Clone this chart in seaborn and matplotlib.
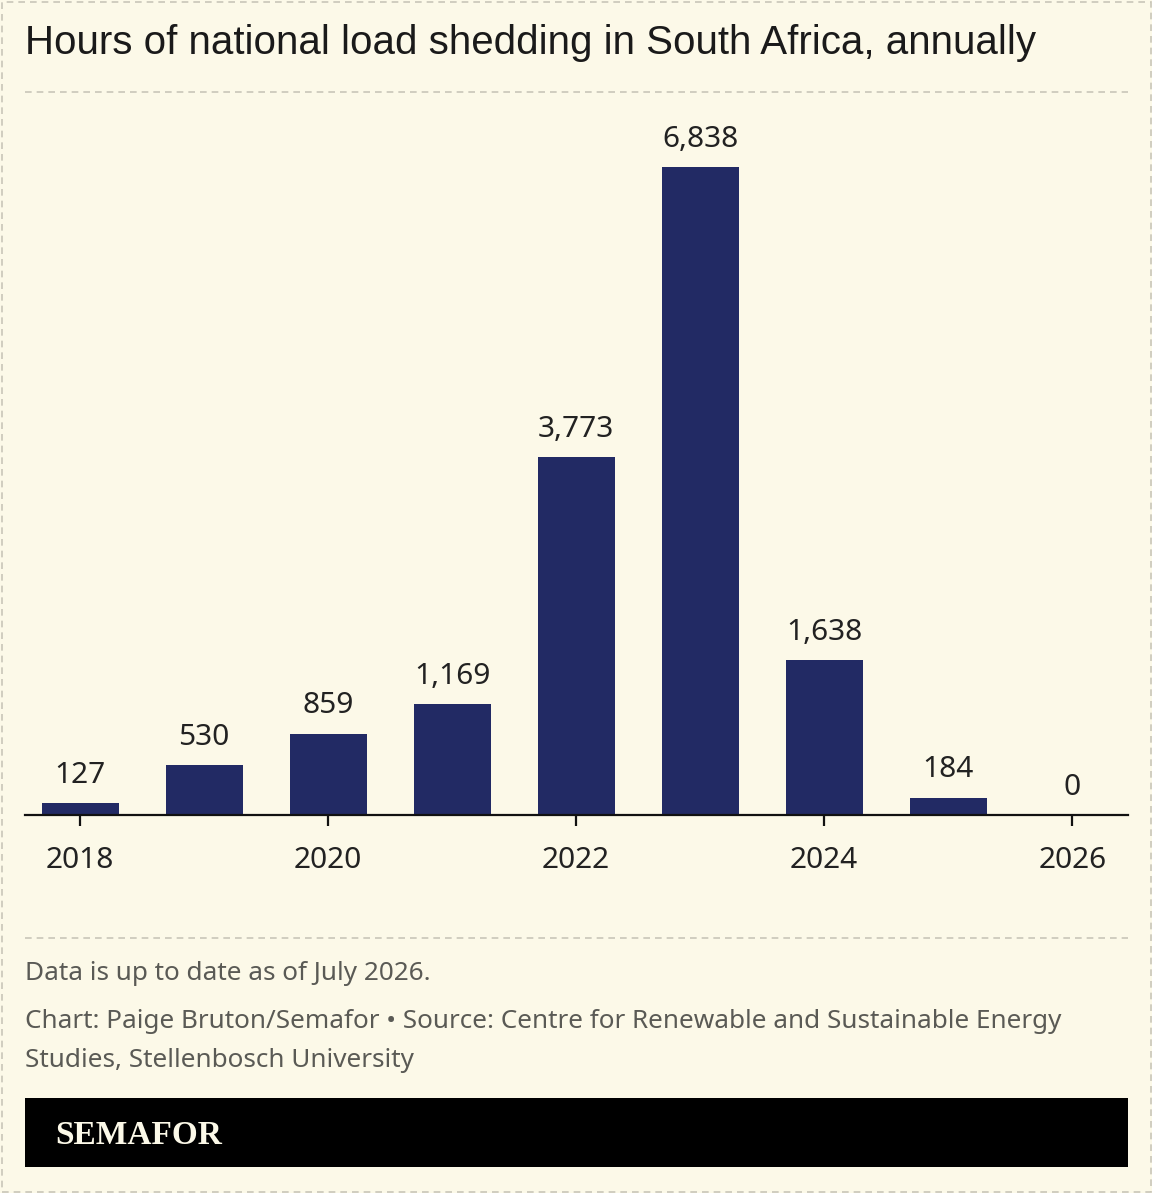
import matplotlib
matplotlib.use("Agg")
import pandas as pd
from matplotlib import pyplot as plt
from matplotlib.patches import Rectangle
from matplotlib.lines import Line2D
import seaborn as sns

years = ["2018", "2019", "2020", "2021", "2022", "2023", "2024", "2025", "2026"]
hours = [127, 530, 859, 1169, 3773, 6838, 1638, 184, 0]
tick_years = ["2018", "2020", "2022", "2024", "2026"]

title = "Hours of national load shedding in South Africa, annually"
note = "Data is up to date as of July 2026."
credit = ("Chart: Paige Bruton/Semafor \u2022 Source: Centre for Renewable and Sustainable Energy\n"
          "Studies, Stellenbosch University")

BG = "#FCF9E8"
BAR = "#222A64"

sns.set_theme(style="white")
plt.rcParams["font.family"] = ["Noto Sans", "DejaVu Sans"]

W, H = 1152, 1193
fig = plt.figure(figsize=(W / 100, H / 100), dpi=100, facecolor=BG)


def fx(px):
    return px / W


def fy(py):
    return 1 - py / H


ax = fig.add_axes([fx(25), fy(815), fx(1128) - fx(25), fy(100) - fy(815)])
ax.set_facecolor(BG)

df = pd.DataFrame({"year": years, "hours": hours})
sns.barplot(data=df, x="year", y="hours", order=years, color=BAR,
            width=0.62, saturation=1, linewidth=0, ax=ax)

labels = [f"{v:,}" for v in hours]
ax.bar_label(ax.containers[0], labels=labels, padding=9.5, fontsize=21.5, color="#222222")

ax.set_ylim(0, 7545)
ax.set_xlim(-0.444, 8.45)
ax.set_xticks([years.index(y) for y in tick_years])
ax.set_xticklabels(tick_years, fontsize=21.5, color="#222222")
ax.set_yticks([])
ax.set_xlabel("")
ax.set_ylabel("")
for s in ["top", "right", "left"]:
    ax.spines[s].set_visible(False)
ax.spines["bottom"].set_color("#111111")
ax.spines["bottom"].set_linewidth(1.6)
ax.tick_params(axis="x", bottom=True, length=8, width=1.6, color="#111111", pad=14.5)

# title and separators
fig.text(fx(25), fy(43), title, fontsize=29, family=["Liberation Sans", "DejaVu Sans"],
         color="#1a1a1a", va="center", ha="left")
fig.add_artist(Line2D([fx(25), fx(1128)], [fy(92), fy(92)], color="#c9c6b8",
                      lw=1.2, ls=(0, (4, 3))))
fig.add_artist(Line2D([fx(25), fx(1128)], [fy(938), fy(938)], color="#c9c6b8",
                      lw=1.2, ls=(0, (4, 3))))

# footer text
fig.text(fx(25), fy(973), note, fontsize=18.8, color="#5a5a55", va="center", ha="left")
fig.text(fx(25), fy(1009), credit, fontsize=18.8, color="#5a5a55", va="top", ha="left",
         linespacing=1.75)

# logo band
fig.add_artist(Rectangle((fx(25), fy(1167)), fx(1128) - fx(25), fy(1098) - fy(1167),
                         facecolor="black", edgecolor="none", transform=fig.transFigure))
fig.text(fx(55), fy(1136), "SEMAFOR", fontsize=24, fontweight="bold",
         family=["Liberation Serif", "DejaVu Serif"], color="#FCF9E8", va="center", ha="left")

# outer dashed border
fig.add_artist(Rectangle((fx(1.5), fy(H - 1.5)), fx(W - 3), fy(1.5) - fy(H - 1.5),
                         facecolor="none", edgecolor="#c9c6b8", lw=1.2, ls=(0, (4, 3)),
                         transform=fig.transFigure))

fig.savefig("out.png", dpi=100, facecolor=BG)
